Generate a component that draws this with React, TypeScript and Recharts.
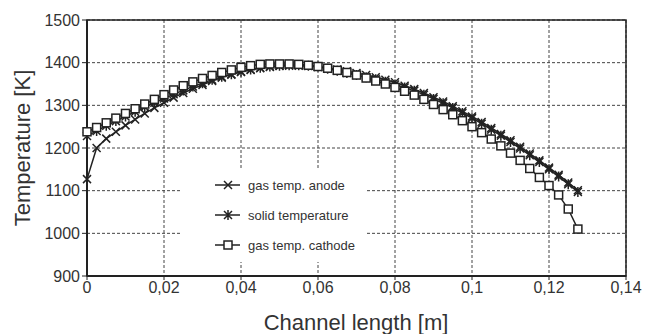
import { LineChart, Line, XAxis, YAxis, CartesianGrid, ReferenceArea } from 'recharts'

const positions = [
  0, 0.0025, 0.005, 0.0075, 0.01, 0.0125, 0.015, 0.0175, 0.02, 0.0225,
  0.025, 0.0275, 0.03, 0.0325, 0.035, 0.0375, 0.04, 0.0425, 0.045, 0.0475,
  0.05, 0.0525, 0.055, 0.0575, 0.06, 0.0625, 0.065, 0.0675, 0.07, 0.0725,
  0.075, 0.0775, 0.08, 0.0825, 0.085, 0.0875, 0.09, 0.0925, 0.095, 0.0975,
  0.1, 0.1025, 0.105, 0.1075, 0.11, 0.1125, 0.115, 0.1175, 0.12, 0.1225,
  0.125, 0.1275,
]

const gasAnode = [
  1127, 1200, 1222, 1238, 1253, 1267, 1281, 1294, 1306, 1318,
  1329, 1339, 1348, 1357, 1365, 1372, 1378, 1383, 1387, 1390,
  1392, 1393, 1393, 1392, 1390, 1387, 1384, 1380, 1376, 1371,
  1366, 1360, 1354, 1346, 1338, 1329, 1319, 1309, 1298, 1286,
  1274, 1261, 1247, 1233, 1218, 1203, 1187, 1171, 1154, 1137,
  1119, 1101,
]

const solidTemp = [
  1228, 1240, 1252, 1263, 1274, 1285, 1296, 1306, 1316, 1326,
  1335, 1344, 1352, 1360, 1367, 1373, 1379, 1384, 1388, 1391,
  1393, 1394, 1394, 1393, 1391, 1386, 1381, 1376, 1371, 1366,
  1361, 1355, 1349, 1342, 1334, 1325, 1315, 1305, 1294, 1282,
  1270, 1257, 1243, 1229, 1214, 1199, 1183, 1167, 1150, 1133,
  1115, 1097,
]

const gasCathode = [
  1238, 1248, 1259, 1270, 1281, 1292, 1303, 1314, 1325, 1336,
  1346, 1355, 1363, 1370, 1377, 1383, 1389, 1393, 1396, 1397,
  1397, 1397, 1396, 1394, 1391, 1387, 1382, 1377, 1371, 1364,
  1357, 1350, 1342, 1333, 1324, 1314, 1302, 1290, 1278, 1264,
  1250, 1236, 1221, 1205, 1188, 1171, 1152, 1131, 1112, 1090,
  1057, 1010,
]

const xTicks = [0, 0.02, 0.04, 0.06, 0.08, 0.1, 0.12, 0.14]
const yTicks = [900, 1000, 1100, 1200, 1300, 1400, 1500]

const INK = '#222'
const TEXT = '#333'
const FONT = '"Liberation Sans", Arial, Helvetica, sans-serif'

const data = positions.map((x, i) => ({
  x,
  anode: gasAnode[i],
  solid: solidTemp[i],
  cathode: gasCathode[i],
}))

function CrossMark({ cx, cy }: { cx: number; cy: number }) {
  const r = 4
  return (
    <path
      d={`M${cx - r},${cy - r}L${cx + r},${cy + r}M${cx - r},${cy + r}L${cx + r},${cy - r}`}
      stroke={INK}
      strokeWidth={1.5}
      fill="none"
    />
  )
}

function StarMark({ cx, cy }: { cx: number; cy: number }) {
  const r = 4
  return (
    <path
      d={`M${cx - r},${cy - r}L${cx + r},${cy + r}M${cx - r},${cy + r}L${cx + r},${cy - r}M${cx},${cy - r - 1}L${cx},${cy + r + 1}`}
      stroke={INK}
      strokeWidth={1.5}
      fill="none"
    />
  )
}

function SquareMark({ cx, cy }: { cx: number; cy: number }) {
  return <rect x={cx - 4} y={cy - 4} width={8} height={8} fill="#fff" stroke={INK} strokeWidth={1.5} />
}

const series = [
  { key: 'anode', name: 'gas temp. anode', Mark: CrossMark },
  { key: 'solid', name: 'solid temperature', Mark: StarMark },
  { key: 'cathode', name: 'gas temp. cathode', Mark: SquareMark },
]

const fmt = (v: number) => String(v).replace('.', ',')

export default function App() {
  return (
    <div style={{ position: 'absolute', left: 0, top: 0, width: 645, height: 334, background: '#fff', fontFamily: FONT }}>
      <LineChart width={645} height={334} data={data} margin={{ top: 20, right: 19, left: 0, bottom: 0 }}>
        <CartesianGrid stroke="#444" strokeDasharray="3 2" strokeWidth={1} />
        <XAxis
          type="number"
          dataKey="x"
          domain={[0, 0.14]}
          ticks={xTicks}
          tickFormatter={fmt}
          height={58}
          tick={{ fontSize: 16, fill: TEXT, fontFamily: FONT }}
          tickSize={4}
          axisLine={{ stroke: INK, strokeWidth: 2 }}
          tickLine={{ stroke: INK }}
          label={{
            content: () => (
              <text x={356} y={330} textAnchor="middle" fontSize={22} fill={TEXT} fontFamily={FONT}>
                Channel length [m]
              </text>
            ),
          }}
        />
        <YAxis
          type="number"
          domain={[900, 1500]}
          ticks={yTicks}
          width={87}
          tick={{ fontSize: 16, fill: TEXT, fontFamily: FONT }}
          tickSize={5}
          axisLine={{ stroke: INK, strokeWidth: 2 }}
          tickLine={{ stroke: INK }}
          label={{
            content: () => (
              <text x={30} y={148} transform="rotate(-90 30 148)" textAnchor="middle" fontSize={22} fill={TEXT} fontFamily={FONT}>
                Temperature [K]
              </text>
            ),
          }}
        />
        <ReferenceArea x1={0} x2={0.14} y1={900} y2={1500} fill="none" stroke={INK} strokeWidth={1.5} fillOpacity={0} />
        {series.map(({ key, Mark }) => (
          <Line
            key={key}
            dataKey={key}
            type="linear"
            stroke={INK}
            strokeWidth={1.5}
            isAnimationActive={false}
            dot={(p: any) => <Mark key={`${key}-${p.index}`} cx={p.cx} cy={p.cy} />}
          />
        ))}
      </LineChart>
      <div
        style={{
          position: 'absolute',
          left: 180,
          top: 168,
          width: 185,
          height: 94,
          background: '#fff',
        }}
      >
        {series.map(({ key, name, Mark }, i) => (
          <div key={key} style={{ position: 'absolute', left: 0, top: 3 + i * 30, height: 28, display: 'flex', alignItems: 'center' }}>
            <svg width={68} height={28} style={{ display: 'block' }}>
              <line x1={35} y1={14} x2={60} y2={14} stroke={INK} strokeWidth={1.5} />
              <Mark cx={48} cy={14} />
            </svg>
            <span style={{ fontSize: 13, color: TEXT, fontFamily: FONT, whiteSpace: 'nowrap' }}>{name}</span>
          </div>
        ))}
      </div>
    </div>
  )
}
